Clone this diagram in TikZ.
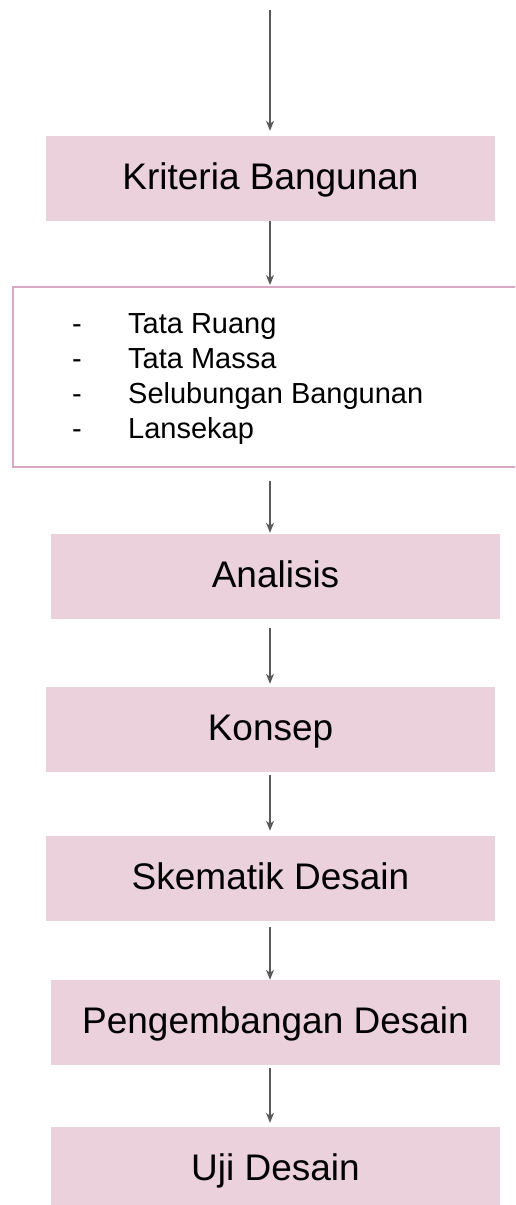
\documentclass[tikz,border=0pt]{standalone}
\usepackage{fontspec}
\setmainfont{Liberation Sans}
\usepackage{xcolor}
\usetikzlibrary{arrows.meta}

\definecolor{rosefill}{HTML}{EAD1DC}
\definecolor{roseline}{HTML}{D9A9C3}
\definecolor{arrowgray}{HTML}{595959}

\begin{document}
\begin{tikzpicture}[x=1pt,y=-1pt,
    stage/.style={rectangle,fill=rosefill,minimum width=449pt,minimum height=85pt,
        inner sep=0pt,text height=29.6pt,text depth=7.4pt,
        font=\fontsize{37}{44}\selectfont},
    listbox/.style={rectangle,draw=roseline,line width=2pt,minimum width=515pt,
        minimum height=180pt,inner sep=0pt},
    item/.style={anchor=base west,inner sep=0pt,font=\fontsize{29}{35}\selectfont},
    flow/.style={draw=arrowgray,line width=1.3pt,
        -{Stealth[length=10pt,width=8pt,inset=3pt]},shorten >=2pt}]
        \clip (0,0) rectangle (515,1205);
        \coordinate (start) at (270,10);
        \node[stage] (kriteria) at (270.5,178.5) {Kriteria Bangunan};
        \node[listbox] (daftar) at (270.5,377) {};
        \node[stage] (analisis) at (275.5,576.5) {Analisis};
        \node[stage] (konsep) at (270.5,729.5) {Konsep};
        \node[stage] (skematik) at (270.5,878.5) {Skematik Desain};
        \node[stage] (pengembangan) at (275.5,1022.5) {Pengembangan Desain};
        \node[stage] (uji) at (275.5,1169.5) {Uji Desain};

        \foreach \teks [count=\i] in {Tata Ruang,Tata Massa,Selubungan Bangunan,Lansekap}{
            \node[item] (dash\i) at (72,298.3+35*\i) {-};
            \node[item] (isi\i) at (128,298.3+35*\i) {\teks};
        }

        \draw[flow,shorten >=5pt] (start) -- (kriteria.north -| start);
        \draw[flow,shorten >=1pt] (kriteria.south -| start) -- (daftar.north -| start);
        \draw[flow,shorten <=13pt,shorten >=1pt] (daftar.south -| start) -- (analisis.north -| start);
        \draw[flow,shorten <=9pt,shorten >=3pt] (analisis.south -| start) -- (konsep.north -| start);
        \draw[flow,shorten <=3pt,shorten >=5pt] (konsep.south -| start) -- (skematik.north -| start);
        \draw[flow,shorten <=6pt,shorten >=0pt] (skematik.south -| start) -- (pengembangan.north -| start);
        \draw[flow,shorten <=3pt,shorten >=4pt] (pengembangan.south -| start) -- (uji.north -| start);
    \end{tikzpicture}
\end{document}
